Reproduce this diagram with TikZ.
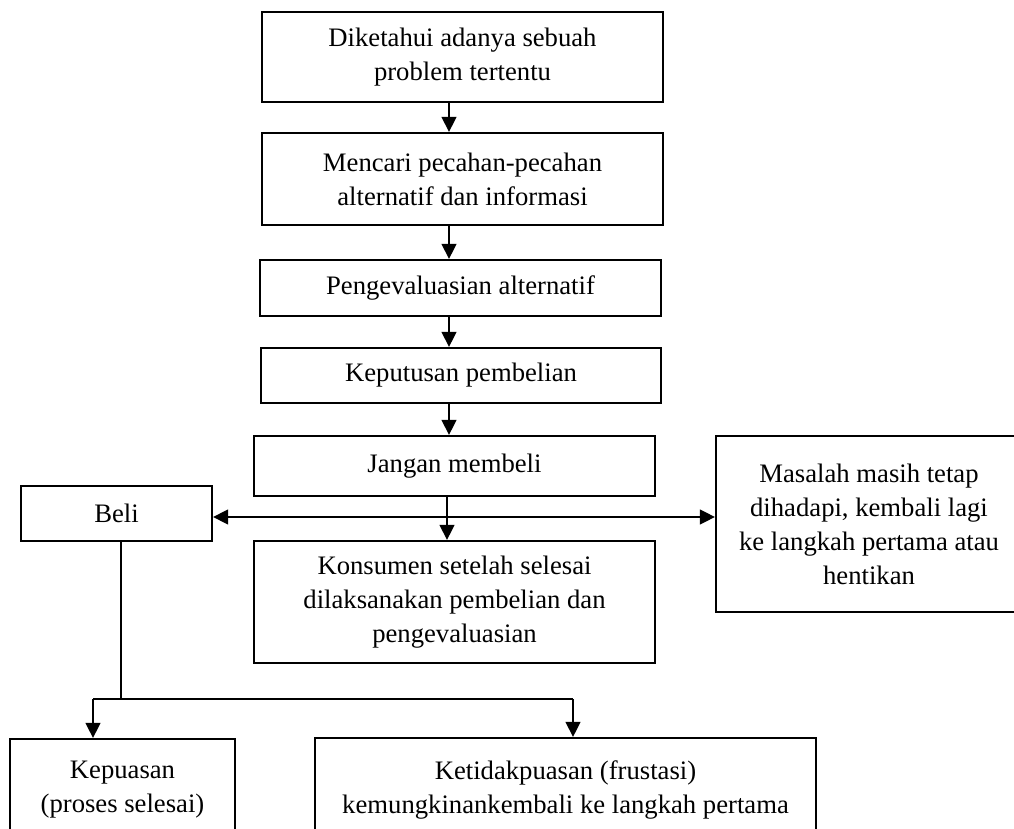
\documentclass[tikz,border=0pt]{standalone}
\usepackage{fontspec}
\setmainfont{Liberation Serif}
\usepackage{tikz}
\usetikzlibrary{arrows.meta}
\usetikzlibrary{calc}

\newcommand{\px}{0.45pt} % un pixel de la figura original

\begin{document}
\begin{tikzpicture}[
    x=\px, y=-\px, % coordenadas en pixeles, eje y hacia abajo
    font=\fontsize{12pt}{15.3pt}\selectfont,
    box/.style={draw, line width=0.9pt, align=center, inner sep=2pt}, % cajas del diagrama
    arr/.style={line width=0.9pt, -{Triangle[length=6.8pt, width=6.6pt]}}, % flechas
    thin line/.style={line width=0.6pt} % linea sin flecha
]
    % --- Marco y recorte ---
    \useasboundingbox (0,0) rectangle (1014,829);
    \clip (0,0) rectangle (1014,829);

    % --- Cajas de la columna central ---
    \node[box, minimum width=401*\px, minimum height=90*\px] (problem) at (462.5,57)
        {Diketahui adanya sebuah\\ problem tertentu};
    \node[box, minimum width=401*\px, minimum height=92*\px] (cari) at (462.5,179)
        {Mencari pecahan-pecahan\\ alternatif dan informasi};
    \node[box, minimum width=401*\px, minimum height=56*\px] (evaluasi) at (460.5,288)
        {Pengevaluasian alternatif};
    \node[box, minimum width=400*\px, minimum height=55*\px] (keputusan) at (461,375.5)
        {Keputusan pembelian};
    \node[box, minimum width=401*\px, minimum height=60*\px] (jangan) at (454.5,466)
        {Jangan membeli};
    \node[box, minimum width=401*\px, minimum height=122*\px] (konsumen) at (454.5,602)
        {Konsumen setelah selesai\\ dilaksanakan pembelian dan\\ pengevaluasian};

    % --- Cajas laterales ---
    \node[box, minimum width=191*\px, minimum height=55*\px] (beli) at (116.5,513.5) {Beli};
    \node[box, minimum width=306*\px, minimum height=176*\px] (masalah) at (869,524)
        {Masalah masih tetap\\ dihadapi, kembali lagi\\ ke langkah pertama atau\\ hentikan};

    % --- Cajas de abajo (cortadas por el borde) ---
    \node[box, minimum width=225*\px, minimum height=102*\px] (puas) at (122.5,790)
        {Kepuasan\\ (proses selesai)};
    \node[box, minimum width=501*\px, minimum height=104*\px] (frustasi) at (565.5,790)
        {Ketidakpuasan (frustasi)\\ kemungkinankembali ke langkah pertama};

    % --- Coordenadas de ayuda ---
    \coordinate (ax) at (449,0);      % eje de las flechas verticales
    \coordinate (cruce) at (447,517); % cruce de la linea horizontal
    \coordinate (bajada) at (121,0);  % linea que baja de Beli
    \coordinate (ramal) at (0,699);   % altura del reparto final
    \coordinate (izq) at (93,0);
    \coordinate (der) at (573,0);

    % --- Flechas de la columna central ---
    \draw[arr] (problem.south -| ax) -- (cari.north -| ax);
    \draw[arr] (cari.south -| ax) -- (evaluasi.north -| ax);
    \draw[arr] (evaluasi.south -| ax) -- (keputusan.north -| ax);
    \draw[arr] (keputusan.south -| ax) -- (jangan.north -| ax);
    \draw[arr] (jangan.south -| cruce) -- (konsumen.north -| cruce);

    % --- Linea horizontal hacia Beli y Masalah ---
    \draw[arr] (cruce) -- (beli.east |- cruce);
    \draw[arr] (cruce) -- (masalah.west |- cruce);

    % --- Reparto hacia Kepuasan y Ketidakpuasan ---
    \draw[thin line] (beli.south -| bajada) -- (bajada |- ramal);
    \draw[line width=0.9pt] (izq |- ramal) -- (der |- ramal);
    \draw[arr] (izq |- ramal) -- (puas.north -| izq);
    \draw[arr] (der |- ramal) -- (frustasi.north -| der);

\end{tikzpicture}
\end{document}
